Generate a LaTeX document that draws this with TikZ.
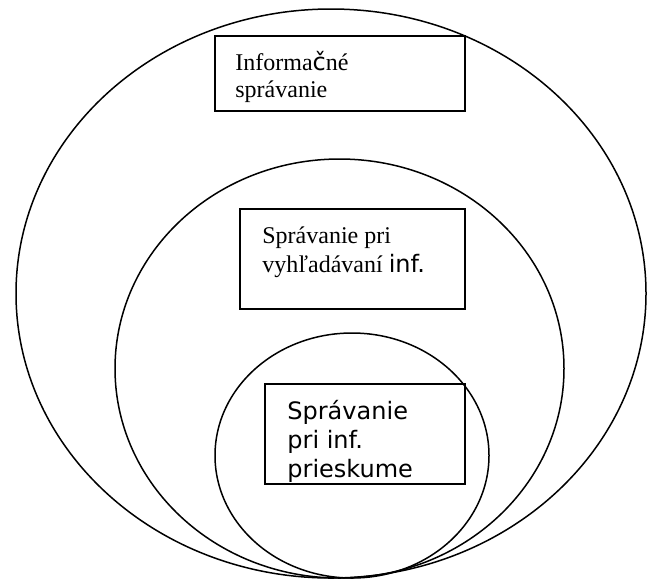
\documentclass[tikz,border=0pt]{standalone}
\usepackage{fontspec}
\setmainfont{Liberation Serif}
\newfontfamily\sansfam{DejaVu Sans}

\begin{document}
\begin{tikzpicture}[x=0.5pt, y=-0.5pt]
    \useasboundingbox (0,0) rectangle (647,580);

    \tikzset{RingStyle/.style={line width=0.75pt}}
    \draw[RingStyle] (331,  293.5) ellipse [x radius=315,   y radius=284.5];
    \draw[RingStyle] (339.5,368.5) ellipse [x radius=224.5, y radius=209.5];
    \draw[RingStyle] (352,  455.5) ellipse [x radius=137,   y radius=122.5];

    \tikzset{BoxStyle/.style={draw, line width=1pt, inner sep=0pt, anchor=north west}}
    \node[BoxStyle, minimum width=125pt,   minimum height=37.5pt] (b1) at (214,35)  {};
    \node[BoxStyle, minimum width=112.5pt, minimum height=50pt]   (b2) at (239,208) {};
    \node[BoxStyle, minimum width=100pt,   minimum height=50pt]   (b3) at (264,383) {};

    \tikzset{TextStyle/.style={anchor=base west, inner sep=0pt, align=left,
        font=\fontsize{12}{13.5}\selectfont}}
    \node[TextStyle] (t1) at ([xshift=10.5pt, yshift=-31pt]b1.north west)
        {Informa{\sansfam č}né\\správanie};
    \tikzset{TextStyle/.append style={font=\fontsize{12}{14.2}\selectfont}}
    \node[TextStyle] (t2) at ([xshift=11.5pt, yshift=-32pt]b2.north west)
        {Správanie pri\\vyhľadávaní {\sansfam inf.}};
    \tikzset{TextStyle/.append style={font=\sansfam\fontsize{12}{14.5}\selectfont}}
    \node[TextStyle] (t3) at ([xshift=11.5pt, yshift=-47pt]b3.north west)
        {Správanie\\pri inf.\\prieskume};
\end{tikzpicture}
\end{document}
